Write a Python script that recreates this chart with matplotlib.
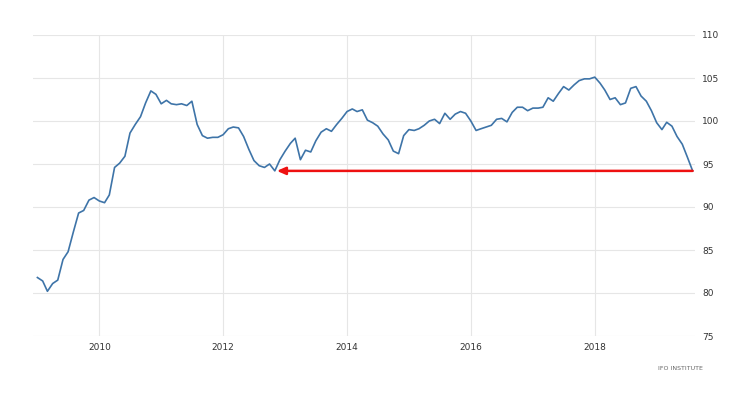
import matplotlib
matplotlib.use("Agg")
import matplotlib.pyplot as plt
import matplotlib.dates as mdates
import pandas as pd

# Ifo business climate, monthly, Jan 2009 - Aug 2019
start_month = "2009-01-01"
values = [
    81.8, 81.4, 80.2, 81.1, 81.5, 83.9, 84.8, 87.1, 89.3, 89.6, 90.8, 91.1,   # 2009
    90.7, 90.5, 91.4, 94.6, 95.1, 95.9, 98.6, 99.6, 100.5, 102.1, 103.5, 103.1,  # 2010
    102.0, 102.4, 102.0, 101.9, 102.0, 101.8, 102.3, 99.6, 98.3, 98.0, 98.1, 98.1,  # 2011
    98.4, 99.1, 99.3, 99.2, 98.2, 96.7, 95.4, 94.8, 94.6, 95.0, 94.2, 95.5,  # 2012
    96.5, 97.4, 98.0, 95.5, 96.6, 96.4, 97.7, 98.7, 99.1, 98.8, 99.6, 100.3,  # 2013
    101.1, 101.4, 101.1, 101.3, 100.1, 99.8, 99.4, 98.5, 97.8, 96.5, 96.2, 98.3,  # 2014
    99.0, 98.9, 99.1, 99.5, 100.0, 100.2, 99.7, 100.9, 100.2, 100.8, 101.1, 100.9,  # 2015
    100.0, 98.9, 99.1, 99.3, 99.5, 100.2, 100.3, 99.9, 101.0, 101.6, 101.6, 101.2,  # 2016
    101.5, 101.5, 101.6, 102.7, 102.3, 103.2, 104.0, 103.6, 104.2, 104.7, 104.9, 104.9,  # 2017
    105.1, 104.4, 103.6, 102.5, 102.7, 101.9, 102.1, 103.8, 104.0, 102.9, 102.3, 101.2,  # 2018
    99.8, 99.0, 99.85, 99.4, 98.2, 97.3, 95.8, 94.2,  # 2019
]
year_ticks = [2010, 2012, 2014, 2016, 2018]
y_ticks = [75, 80, 85, 90, 95, 100, 105, 110]
source_label = "IFO INSTITUTE"

dates = pd.date_range(start_month, periods=len(values), freq="MS")
s = pd.Series(values, index=dates)

fig = plt.figure(figsize=(7.51, 4.0), dpi=100)
ax = fig.add_axes([33 / 751, 64 / 400, 662 / 751, 301 / 400])

ax.plot(s.index, s.values, color="#3e74a8", lw=1.2, zorder=3)

# red arrow from the last value back to the 2012 low
low_date = s["2012"].idxmin()
ax.annotate("", xy=(low_date + pd.Timedelta(days=12), s.iloc[-1]),
            xytext=(s.index[-1], s.iloc[-1]),
            arrowprops=dict(arrowstyle="-|>,head_length=0.5,head_width=0.22",
                            color="#ee1111", lw=1.8, shrinkA=0, shrinkB=0),
            zorder=4)

ax.set_xlim(pd.Timestamp("2008-12-06"), pd.Timestamp("2019-08-15"))
ax.set_ylim(75, 110)
ax.set_xticks([pd.Timestamp(f"{y}-01-01") for y in year_ticks])
ax.xaxis.set_major_formatter(mdates.DateFormatter("%Y"))
ax.set_yticks(y_ticks)
ax.yaxis.tick_right()

ax.grid(True, color="#e6e6e6", lw=0.8, zorder=0)
ax.tick_params(length=0, labelsize=6.5, colors="#333333", pad=5)
ax.tick_params(axis="y", pad=5)
for sp in ax.spines.values():
    sp.set_visible(False)

fig.text(680 / 751, 1 - 369 / 400, source_label, fontsize=4.5, color="#666666",
         ha="center", va="center")

fig.savefig("out.png", dpi=100)
